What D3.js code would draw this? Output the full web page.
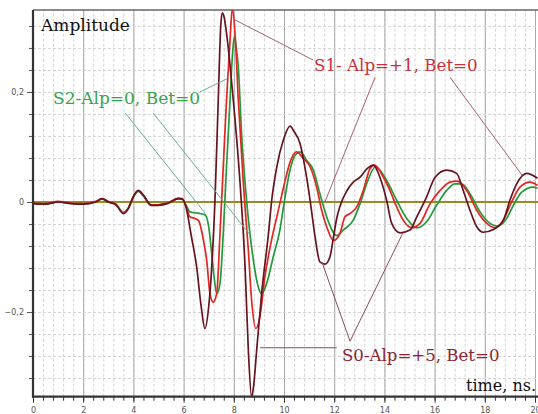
<!DOCTYPE html>
<html>
<head>
<meta charset="utf-8">
<title>Amplitude vs time</title>
<script src="https://d3js.org/d3.v7.min.js"></script>
<style>
  body { margin: 0; background: #fff; }
  svg { display: block; }
</style>
</head>
<body>
<div id="graph"></div>
<script>
// tick values
var xMajor = [0, 2, 4, 6, 8, 10, 12, 14, 16, 18, 20];
var yMajor = [-0.2, 0, 0.2];

// S0-Alp=+5, Bet=0  (time ns, amplitude)
var s0 = [[0,-0.003],[0.5,-0.004],[1,0],[1.5,-0.003],[2,-0.004],[2.5,0],[2.75,0.006],[3,0],[3.3,-0.005],
  [3.6,-0.021],[3.8,-0.012],[4.0,0.01],[4.2,0.021],[4.4,0.012],[4.7,-0.006],[5.0,-0.006],[5.4,-0.002],
  [5.8,0.006],[5.95,0.005],[6.1,-0.01],[6.3,-0.06],[6.52,-0.118],[6.7,-0.19],[6.85,-0.23],[7.0,-0.19],
  [7.12,-0.119],[7.25,0.003],[7.38,0.185],[7.48,0.32],[7.54,0.344],[7.62,0.335],[7.71,0.307],[7.98,0.185],
  [8.25,0.034],[8.45,-0.119],[8.58,-0.27],[8.71,-0.355],[8.8,-0.33],[8.91,-0.27],[9.11,-0.166],[9.38,-0.058],
  [9.51,0.003],[9.71,0.063],[9.97,0.112],[10.24,0.138],[10.4,0.128],[10.64,0.106],[10.9,0.045],[11.04,0.003],
  [11.24,-0.064],[11.43,-0.109],[11.63,-0.113],[11.83,-0.1],[11.97,-0.064],[12.1,-0.03],[12.23,-0.008],
  [12.5,0.02],[12.76,0.036],[13.03,0.045],[13.3,0.06],[13.56,0.067],[13.82,0.045],[14.09,0.003],[14.29,-0.039],
  [14.62,-0.056],[15.02,-0.051],[15.29,-0.027],[15.68,0.009],[16.02,0.045],[16.48,0.058],[16.88,0.052],
  [17.14,0.021],[17.41,-0.015],[17.68,-0.045],[17.94,-0.055],[18.34,-0.05],[18.74,-0.033],[19.0,0.003],
  [19.27,0.033],[19.67,0.052],[20.1,0.043]];

// S1- Alp=+1, Bet=0
var s1 = [[0,-0.002],[0.5,-0.003],[1,0.001],[1.5,-0.002],[2,-0.003],[2.5,0.001],[2.75,0.006],[3,0.001],
  [3.3,-0.004],[3.6,-0.02],[3.8,-0.011],[4.0,0.01],[4.2,0.02],[4.4,0.012],[4.7,-0.005],[5.0,-0.005],
  [5.4,-0.001],[5.8,0.007],[5.95,0.006],[6.1,-0.008],[6.25,-0.027],[6.45,-0.03],[6.6,-0.034],[6.75,-0.06],
  [6.92,-0.106],[7.05,-0.166],[7.18,-0.182],[7.32,-0.166],[7.45,-0.058],[7.58,0.064],[7.71,0.185],[7.85,0.294],
  [7.94,0.352],[8.05,0.306],[8.18,0.185],[8.38,0.034],[8.58,-0.088],[8.71,-0.179],[8.88,-0.23],[9.04,-0.209],
  [9.24,-0.136],[9.5,-0.07],[9.75,-0.02],[10.0,0.03],[10.24,0.072],[10.5,0.091],[10.77,0.079],[11.04,0.064],
  [11.3,0.027],[11.5,-0.015],[11.7,-0.045],[11.97,-0.07],[12.23,-0.057],[12.43,-0.027],[12.63,-0.021],
  [12.9,-0.009],[13.16,0.021],[13.43,0.061],[13.6,0.067],[13.96,0.045],[14.22,0.021],[14.49,-0.009],
  [14.75,-0.033],[15.09,-0.047],[15.42,-0.039],[15.82,-0.003],[16.22,0.021],[16.61,0.036],[16.88,0.038],
  [17.28,0.021],[17.68,-0.015],[18.08,-0.039],[18.41,-0.047],[18.74,-0.033],[19.07,0],[19.4,0.027],
  [19.8,0.036],[20.1,0.03]];

// S2-Alp=0, Bet=0
var s2 = [[0,-0.003],[0.5,-0.003],[1,0],[1.5,-0.002],[2,-0.003],[2.5,0],[2.75,0.005],[3,0],[3.3,-0.004],
  [3.6,-0.019],[3.8,-0.011],[4.0,0.009],[4.2,0.019],[4.4,0.011],[4.7,-0.005],[5.0,-0.005],[5.4,-0.001],
  [5.8,0.006],[5.95,0.005],[6.1,-0.006],[6.25,-0.018],[6.5,-0.02],[6.65,-0.021],[6.85,-0.023],[7.0,-0.045],
  [7.1,-0.085],[7.2,-0.13],[7.32,-0.167],[7.45,-0.148],[7.58,-0.057],[7.71,0.064],[7.85,0.185],[7.95,0.27],
  [8.02,0.3],[8.1,0.28],[8.18,0.245],[8.31,0.124],[8.51,0.003],[8.78,-0.106],[8.95,-0.15],[9.11,-0.167],
  [9.31,-0.148],[9.57,-0.1],[9.84,-0.05],[10.0,-0.003],[10.24,0.058],[10.44,0.085],[10.64,0.091],[10.9,0.076],
  [11.17,0.058],[11.43,0.015],[11.7,-0.027],[11.9,-0.05],[12.1,-0.061],[12.36,-0.051],[12.76,-0.033],
  [13.03,-0.003],[13.29,0.033],[13.65,0.064],[14.09,0.039],[14.49,0.003],[14.89,-0.03],[15.29,-0.047],
  [15.68,-0.036],[16.08,-0.006],[16.48,0.021],[16.81,0.033],[17.08,0.033],[17.41,0.015],[17.81,-0.018],
  [18.21,-0.039],[18.47,-0.044],[18.87,-0.03],[19.14,-0.006],[19.47,0.018],[19.93,0.027],[20.1,0.025]];

// label text, leader lines as [t, amplitude] points
var labelS0 = "S0-Alp=+5, Bet=0";
var labelS1 = "S1- Alp=+1, Bet=0";
var labelS2 = "S2-Alp=0, Bet=0";
var leadS0 = [[[9.05,-0.265],[12.1,-0.265]], [[11.51,-0.109],[12.63,-0.253],[14.74,-0.056]]];
var leadS1 = [[[8.05,0.331],[11.16,0.258]], [[13.63,0.227],[11.63,0]], [[16.61,0.227],[19.48,0.049]]];
var leadS2 = [[[3.67,0.162],[6.85,-0.02]], [[4.78,0.162],[8.65,-0.06]], [[6.65,0.2],[7.73,0.224]]];

var W = 538, H = 414;
var x = d3.scaleLinear().domain([0, 20]).range([33, 535]);
var y = d3.scaleLinear().domain([-0.354, 0.349]).range([396.7, 10]);
var x0 = 33, x1 = 538, yTop = 10, yBot = 396.7;

var svg = d3.select("#graph").append("svg").attr("width", W).attr("height", H);

svg.append("clipPath").attr("id", "plot")
  .append("rect").attr("x", x0).attr("y", yTop).attr("width", x1 - x0).attr("height", yBot - yTop);

// grid
var xMinor = d3.range(0, 20.01, 0.4);
var yMinor = d3.range(-0.32, 0.33, 0.04);
svg.append("g").attr("transform", "translate(0," + yBot + ")")
  .call(d3.axisBottom(x).tickValues(xMinor).tickSize(-(yBot - yTop)).tickFormat(""))
  .call(g => g.select(".domain").remove())
  .selectAll("line").attr("stroke", "#d4d4d4").attr("stroke-dasharray", "3,2");
svg.append("g").attr("transform", "translate(0," + yBot + ")")
  .call(d3.axisBottom(x).tickValues(xMajor).tickSize(-(yBot - yTop)).tickFormat(""))
  .call(g => g.select(".domain").remove())
  .selectAll("line").attr("stroke", "#a8a8a8");
svg.append("g").attr("transform", "translate(" + x0 + ",0)")
  .call(d3.axisRight(y).tickValues(yMinor).tickSize(x1 - x0).tickFormat(""))
  .call(g => g.select(".domain").remove())
  .selectAll("line").attr("stroke", "#d4d4d4").attr("stroke-dasharray", "3,2");

// top frame
svg.append("line").attr("x1", x0).attr("x2", x1).attr("y1", yTop).attr("y2", yTop)
  .attr("stroke", "#666").attr("stroke-width", 1.5);

// zero line
svg.append("line").attr("x1", x0).attr("x2", x1).attr("y1", y(0)).attr("y2", y(0))
  .attr("stroke", "#9a8a24").attr("stroke-width", 2);

// series
var line = d3.line().x(d => x(d[0])).y(d => y(d[1])).curve(d3.curveMonotoneX);
var plot = svg.append("g").attr("clip-path", "url(#plot)");
plot.append("path").datum(s2).attr("d", line).attr("fill", "none").attr("stroke", "#229a3a").attr("stroke-width", 1.7);
plot.append("path").datum(s1).attr("d", line).attr("fill", "none").attr("stroke", "#e3261f").attr("stroke-width", 1.7);
plot.append("path").datum(s0).attr("d", line).attr("fill", "none").attr("stroke", "#661420").attr("stroke-width", 1.7);

// axes
var xAxis = d3.axisBottom(x).tickValues(xMajor).tickSize(6).tickFormat(d3.format("d"));
svg.append("g").attr("transform", "translate(0," + yBot + ")")
  .call(d3.axisBottom(x).tickValues(xMinor).tickSize(4).tickFormat(""))
  .call(g => g.select(".domain").remove())
  .selectAll("line").attr("stroke", "#333");
var gx = svg.append("g").attr("transform", "translate(0," + yBot + ")").call(xAxis);
gx.select(".domain").remove();
gx.selectAll("line").attr("stroke", "#333");
gx.selectAll("text").attr("fill", "#555").attr("font-size", 8).attr("font-family", "DejaVu Sans, sans-serif").attr("dy", "0.9em");

svg.append("g").attr("transform", "translate(" + x0 + ",0)")
  .call(d3.axisLeft(y).tickValues(yMinor).tickSize(4).tickFormat(""))
  .call(g => g.select(".domain").remove())
  .selectAll("line").attr("stroke", "#555");
var gy = svg.append("g").attr("transform", "translate(" + x0 + ",0)")
  .call(d3.axisLeft(y).tickValues(yMajor).tickSize(6).tickFormat(d => d3.format("")(d).replace(".", ",")));
gy.select(".domain").remove();
gy.selectAll("line").attr("stroke", "#555");
gy.selectAll("text").attr("fill", "#555").attr("font-size", 8).attr("font-family", "DejaVu Sans, sans-serif");

svg.append("line").attr("x1", x0).attr("x2", x0).attr("y1", yTop).attr("y2", yBot + 1)
  .attr("stroke", "#333").attr("stroke-width", 2.2);
svg.append("line").attr("x1", x0 - 1).attr("x2", x1).attr("y1", yBot).attr("y2", yBot)
  .attr("stroke", "#333").attr("stroke-width", 2.2);

// leader lines
var lead = d3.line().x(d => x(d[0])).y(d => y(d[1]));
leadS2.forEach(p => svg.append("path").attr("d", lead(p)).attr("fill", "none").attr("stroke", "#6aae98").attr("stroke-width", 1));
leadS1.forEach(p => svg.append("path").attr("d", lead(p)).attr("fill", "none").attr("stroke", "#a86070").attr("stroke-width", 1));
leadS0.forEach(p => svg.append("path").attr("d", lead(p)).attr("fill", "none").attr("stroke", "#8a4a5a").attr("stroke-width", 1));

// labels
function label(txt, px, py, size, color, anchor) {
  svg.append("text")
    .attr("font-family", "DejaVu Serif")
    .attr("x", px).attr("y", py).attr("font-size", size).attr("fill", color)
    .attr("text-anchor", anchor || "start").text(txt);
}
label("Amplitude", 41, 31, 17, "#111");
label("time, ns.", 536, 391, 16, "#111", "end");
label(labelS2, 53, 104, 17, "#34a44c");
label(labelS1, 314, 71, 16.7, "#c8303a");
label(labelS0, 342, 361, 16.6, "#8c2434");
</script>
</body>
</html>
